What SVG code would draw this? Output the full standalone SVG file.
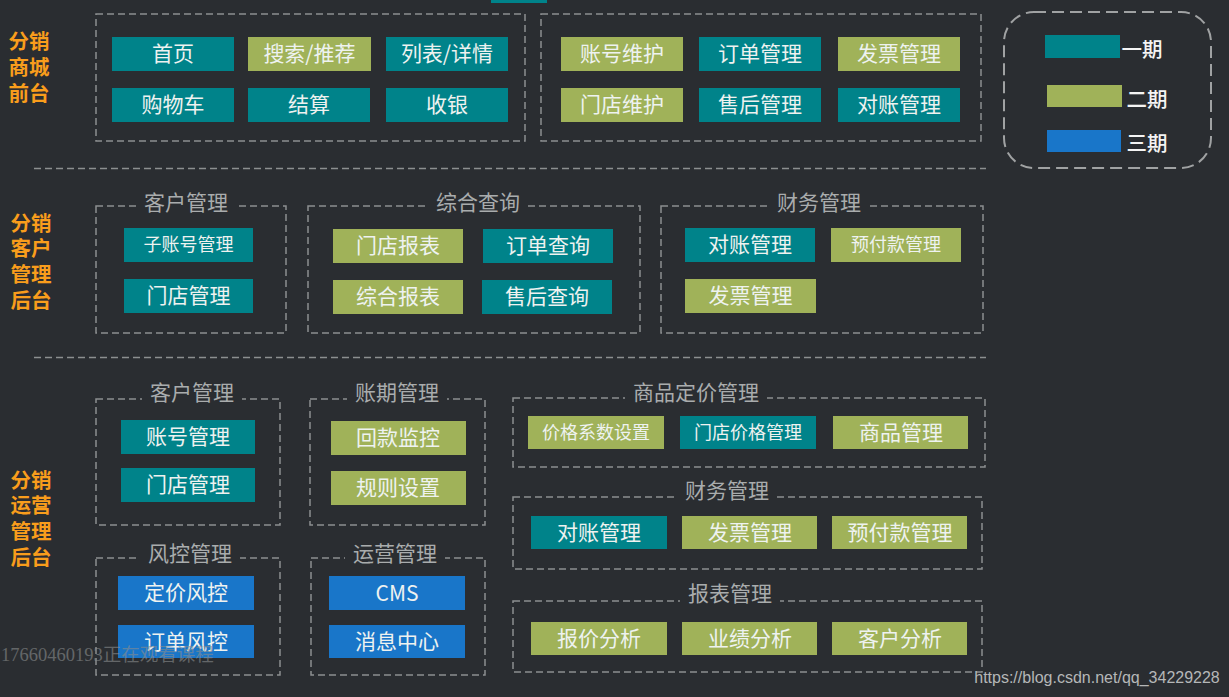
<svg xmlns="http://www.w3.org/2000/svg" width="1229" height="697" viewBox="0 0 1229 697">
<style>
text{font-family:"Noto Sans CJK SC","Noto Sans",sans-serif;text-anchor:middle;dominant-baseline:central;transform:translateY(-1.5px)}
.t1{fill:#00838a}.t2{fill:#a0b259}.t3{fill:#1976c9}
.n{fill:#eef2f0;font-size:21px}.s{fill:#eef2f0;font-size:18px}
.d{fill:none;stroke:#8c8f90;stroke-width:1.5;stroke-dasharray:7 4}
.h{fill:#a9acad;font-size:21px}
.o{fill:#f99d1c;font-size:20.500px;font-weight:700}
.l{fill:#f4f4f4;font-size:20.500px;font-weight:500}
.lb{fill:#2a2d31}
</style>
<rect width="1229" height="697" fill="#2a2d31"/>
<rect x="491" y="0" width="56" height="3" fill="#00838a"/>
<g id="connectors">
<path class="d" d="M34 168.500H986"/>
<path class="d" d="M34 357.500H986"/>
</g>
<g id="side-labels">
<text class="o" x="29" y="41">分销</text><text class="o" x="29" y="67">商城</text><text class="o" x="29" y="93">前台</text>
<text class="o" x="31" y="223">分销</text><text class="o" x="31" y="248">客户</text><text class="o" x="31" y="274">管理</text><text class="o" x="31" y="300">后台</text>
<text class="o" x="31" y="480">分销</text><text class="o" x="31" y="505">运营</text><text class="o" x="31" y="531">管理</text><text class="o" x="31" y="557">后台</text>
</g>
<g id="group-front-a"><rect class="d" x="96" y="14" width="429" height="127"/></g>
<g id="group-front-b"><rect class="d" x="541" y="14" width="440" height="127"/></g>
<g id="group-cust"><rect class="d" x="96" y="206" width="190" height="127"/><rect class="lb" x="136" y="190" width="100" height="24"/><text class="h" x="186" y="202">客户管理</text></g>
<g id="group-query"><rect class="d" x="308" y="206" width="332" height="127"/><rect class="lb" x="428" y="190" width="100" height="24"/><text class="h" x="478" y="202">综合查询</text></g>
<g id="group-fin"><rect class="d" x="661" y="206" width="322" height="127"/><rect class="lb" x="769" y="190" width="100" height="24"/><text class="h" x="819" y="202">财务管理</text></g>
<g id="group-op-cust"><rect class="d" x="96" y="399" width="184" height="126"/><rect class="lb" x="142" y="380" width="100" height="24"/><text class="h" x="192" y="392">客户管理</text></g>
<g id="group-op-term"><rect class="d" x="310" y="399" width="175" height="126"/><rect class="lb" x="347" y="380" width="100" height="24"/><text class="h" x="397" y="392">账期管理</text></g>
<g id="group-op-price"><rect class="d" x="513" y="398" width="472" height="69"/><rect class="lb" x="625" y="380" width="142" height="24"/><text class="h" x="696" y="392">商品定价管理</text></g>
<g id="group-op-fin"><rect class="d" x="513" y="497" width="469" height="72"/><rect class="lb" x="677" y="478" width="100" height="24"/><text class="h" x="727" y="490">财务管理</text></g>
<g id="group-op-report"><rect class="d" x="513" y="601" width="469" height="71"/><rect class="lb" x="680" y="581" width="100" height="24"/><text class="h" x="730" y="593">报表管理</text></g>
<g id="group-op-risk"><rect class="d" x="96" y="558" width="184" height="117"/><rect class="lb" x="140" y="541" width="100" height="24"/><text class="h" x="190" y="553">风控管理</text></g>
<g id="group-op-ops"><rect class="d" x="311" y="558" width="174" height="117"/><rect class="lb" x="345" y="541" width="100" height="24"/><text class="h" x="395" y="553">运营管理</text></g>

<g id="n1"><rect class="t1" x="112" y="37" width="122" height="34"/><text class="n" x="173" y="53">首页</text></g>
<g id="n2"><rect class="t2" x="248" y="37" width="123" height="34"/><text class="n" x="309.500" y="53">搜索/推荐</text></g>
<g id="n3"><rect class="t1" x="386" y="37" width="122" height="34"/><text class="n" x="447" y="53">列表/详情</text></g>
<g id="n4"><rect class="t1" x="112" y="88" width="122" height="34"/><text class="n" x="173" y="104">购物车</text></g>
<g id="n5"><rect class="t1" x="248" y="88" width="122" height="34"/><text class="n" x="309" y="104">结算</text></g>
<g id="n6"><rect class="t1" x="386" y="88" width="122" height="34"/><text class="n" x="447" y="104">收银</text></g>
<g id="n7"><rect class="t2" x="561" y="37" width="122" height="34"/><text class="n" x="622" y="53">账号维护</text></g>
<g id="n8"><rect class="t1" x="699" y="37" width="122" height="34"/><text class="n" x="760" y="53">订单管理</text></g>
<g id="n9"><rect class="t2" x="838" y="37" width="122" height="34"/><text class="n" x="899" y="53">发票管理</text></g>
<g id="n10"><rect class="t2" x="561" y="88" width="122" height="34"/><text class="n" x="622" y="104">门店维护</text></g>
<g id="n11"><rect class="t1" x="699" y="88" width="122" height="34"/><text class="n" x="760" y="104">售后管理</text></g>
<g id="n12"><rect class="t1" x="838" y="88" width="122" height="34"/><text class="n" x="899" y="104">对账管理</text></g>

<g id="n13"><rect class="t1" x="124" y="228" width="129" height="34"/><text class="s" x="188.500" y="244">子账号管理</text></g>
<g id="n14"><rect class="t1" x="124" y="279" width="129" height="34"/><text class="n" x="188.500" y="295">门店管理</text></g>
<g id="n15"><rect class="t2" x="333" y="229" width="130" height="34"/><text class="n" x="398" y="245">门店报表</text></g>
<g id="n16"><rect class="t1" x="483" y="229" width="130" height="34"/><text class="n" x="548" y="245">订单查询</text></g>
<g id="n17"><rect class="t2" x="333" y="280" width="130" height="34"/><text class="n" x="398" y="296">综合报表</text></g>
<g id="n18"><rect class="t1" x="482" y="280" width="130" height="34"/><text class="n" x="547" y="296">售后查询</text></g>
<g id="n19"><rect class="t1" x="685" y="228" width="130" height="34"/><text class="n" x="750" y="244">对账管理</text></g>
<g id="n20"><rect class="t2" x="831" y="228" width="130" height="34"/><text class="s" x="896" y="244">预付款管理</text></g>
<g id="n21"><rect class="t2" x="685" y="279" width="131" height="34"/><text class="n" x="750.500" y="295">发票管理</text></g>

<g id="n22"><rect class="t1" x="121" y="420" width="134" height="34"/><text class="n" x="188" y="436">账号管理</text></g>
<g id="n23"><rect class="t1" x="121" y="468" width="134" height="34"/><text class="n" x="188" y="484">门店管理</text></g>
<g id="n24"><rect class="t2" x="331" y="421" width="135" height="34"/><text class="n" x="398" y="437">回款监控</text></g>
<g id="n25"><rect class="t2" x="331" y="471" width="135" height="34"/><text class="n" x="398" y="487">规则设置</text></g>
<g id="n26"><rect class="t2" x="528" y="416" width="136" height="33"/><text class="s" x="596" y="432">价格系数设置</text></g>
<g id="n27"><rect class="t1" x="680" y="416" width="136" height="33"/><text class="s" x="748" y="432">门店价格管理</text></g>
<g id="n28"><rect class="t2" x="833" y="416" width="135" height="33"/><text class="n" x="901" y="432">商品管理</text></g>
<g id="n29"><rect class="t1" x="531" y="516" width="136" height="33"/><text class="n" x="599" y="532">对账管理</text></g>
<g id="n30"><rect class="t2" x="682" y="516" width="135" height="33"/><text class="n" x="750" y="532">发票管理</text></g>
<g id="n31"><rect class="t2" x="832" y="516" width="135" height="33"/><text class="n" x="900" y="532">预付款管理</text></g>
<g id="n32"><rect class="t2" x="531" y="622" width="136" height="33"/><text class="n" x="599" y="638">报价分析</text></g>
<g id="n33"><rect class="t2" x="682" y="622" width="135" height="33"/><text class="n" x="750" y="638">业绩分析</text></g>
<g id="n34"><rect class="t2" x="832" y="622" width="135" height="33"/><text class="n" x="900" y="638">客户分析</text></g>
<g id="n35"><rect class="t3" x="118" y="576" width="136" height="34"/><text class="n" x="186" y="592">定价风控</text></g>
<g id="n36"><rect class="t3" x="118" y="625" width="136" height="33"/><text class="n" x="186" y="641">订单风控</text></g>
<g id="n37"><rect class="t3" x="329" y="576" width="136" height="34"/><text class="n" x="397" y="593">CMS</text></g>
<g id="n38"><rect class="t3" x="329" y="625" width="136" height="33"/><text class="n" x="397" y="641">消息中心</text></g>

<g id="legend">
<rect x="1004" y="12" width="207" height="156" rx="30" fill="none" stroke="#a0a2a3" stroke-width="2" stroke-dasharray="12 6"/>
<rect class="t1" x="1045" y="35" width="75" height="23"/><text class="l" x="1142" y="49">一期</text>
<rect class="t2" x="1047" y="85" width="75" height="22"/><text class="l" x="1147" y="99">二期</text>
<rect class="t3" x="1047" y="130" width="74" height="22"/><text class="l" x="1147" y="143">三期</text>
</g>
<text x="1" y="656" style="text-anchor:start;font-family:'Liberation Serif','Noto Sans CJK SC',serif;font-size:18.500px;fill:#8a8d8e" opacity=".6">17660460193正在观看课程</text>
<text x="1097" y="679" style="font-family:'Liberation Sans',sans-serif;font-size:16px;fill:#b5b7b8">https://blog.csdn.net/qq_34229228</text>
</svg>
